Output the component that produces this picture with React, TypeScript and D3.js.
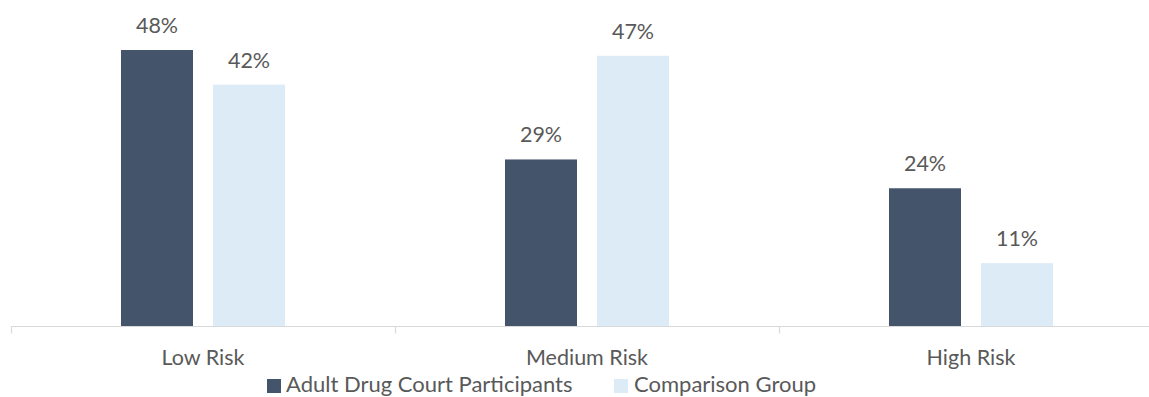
import React from "react";
import * as d3 from "d3";

const categories = ["Low Risk", "Medium Risk", "High Risk"];
const seriesNames = ["Adult Drug Court Participants", "Comparison Group"];
const participants = [48, 29, 24];
const comparison = [42, 47, 11];
const seriesColors = ["#44546A", "#DDEBF7"];

const W = 1149;
const H = 397;
const FONT = "Lato, 'Open Sans', sans-serif";
const TEXT = "#595959";

export default function App() {
  const baseY = 326.5;
  const x0 = d3.scaleBand<string>().domain(categories).range([11, 1163]).padding(0);
  const x1 = d3
    .scaleBand<string>()
    .domain(seriesNames)
    .range([110, 274])
    .paddingInner(20 / 92)
    .paddingOuter(0);
  const y = d3.scaleLinear().domain([0, 50]).range([baseY, baseY - 50 * 5.76]);

  const values = [participants, comparison];

  return (
    <svg width={W} height={H} style={{ display: "block", position: "absolute", left: 0, top: 0 }}>
      <rect width={W} height={H} fill="#fff" />
      {categories.map((c, ci) => (
        <g key={c} transform={`translate(${x0(c)},0)`}>
          {seriesNames.map((s, si) => {
            const v = values[si][ci];
            const bx = x1(s)!;
            return (
              <g key={s}>
                <rect x={bx} y={y(v)} width={x1.bandwidth()} height={baseY - y(v)} fill={seriesColors[si]} />
                <text
                  x={bx + x1.bandwidth() / 2}
                  y={y(v) - 17}
                  textAnchor="middle"
                  fontFamily={FONT}
                  fontSize={21.5}
                  fill={TEXT}
                >
                  {`${v}%`}
                </text>
              </g>
            );
          })}
          <text x={x0.bandwidth() / 2} y={365} textAnchor="middle" fontFamily={FONT} fontSize={21.5} fill={TEXT}>
            {c}
          </text>
        </g>
      ))}
      {/* category axis */}
      <line x1={11} x2={W} y1={baseY} y2={baseY} stroke="#D9D9D9" strokeWidth={1.2} />
      {[...categories.map((c) => x0(c)!), x0(categories[2])! + x0.bandwidth()].map((tx, i) => (
        <line key={i} x1={tx + 0.5} x2={tx + 0.5} y1={baseY} y2={baseY + 7} stroke="#D9D9D9" strokeWidth={1.2} />
      ))}
      {/* legend */}
      <g>
        <rect x={267} y={379} width={14} height={14} fill={seriesColors[0]} />
        <text x={286} y={392} fontFamily={FONT} fontSize={22} fill={TEXT}>
          {seriesNames[0]}
        </text>
        <rect x={614} y={379} width={14} height={14} fill={seriesColors[1]} />
        <text x={634} y={392} fontFamily={FONT} fontSize={22} fill={TEXT}>
          {seriesNames[1]}
        </text>
      </g>
    </svg>
  );
}
